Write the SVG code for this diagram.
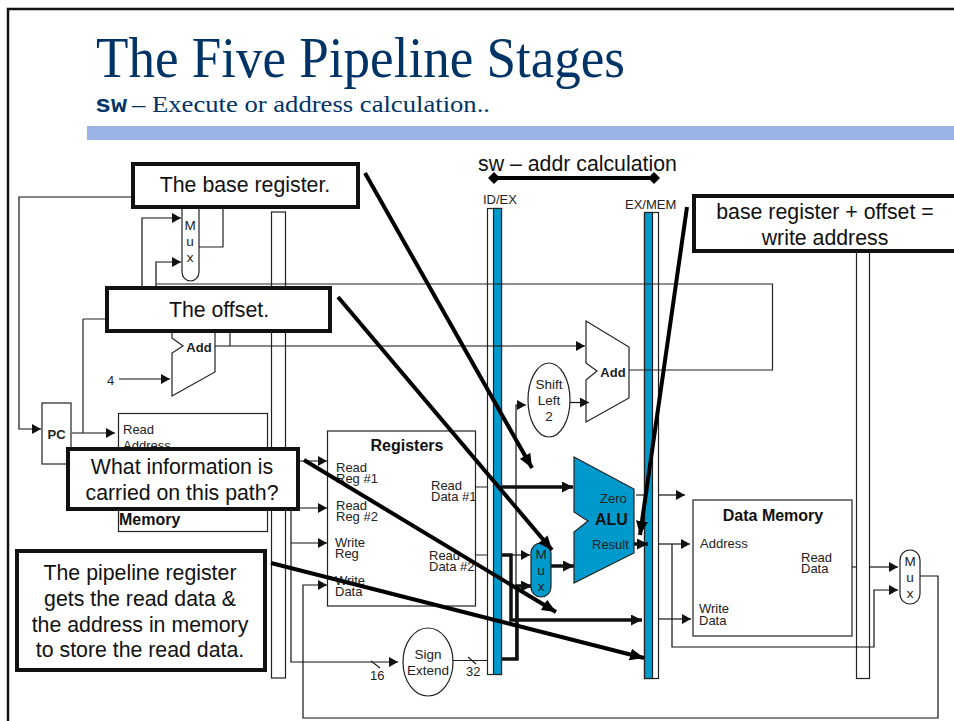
<svg xmlns="http://www.w3.org/2000/svg" width="954" height="721" viewBox="0 0 954 721">
<style>
text{font-family:"Liberation Sans",Arial,sans-serif;fill:#222}
.t{fill:none;stroke:#222;stroke-width:1.2}
.b{fill:#fff;stroke:#222;stroke-width:1.2}
.blue{fill:#0099cc;stroke:#222;stroke-width:1.2}
.a{fill:none;stroke:#111;stroke-width:1.2;marker-end:url(#ah)}
.k{fill:none;stroke:#111;stroke-width:3.5}
.ka{fill:none;stroke:#111;stroke-width:3.5;marker-end:url(#kh)}
.c{fill:#fff;stroke:#111;stroke-width:4}
.ct{font-size:21.3px;text-anchor:middle;fill:#111}
.s{font-size:13px}
.m{font-size:13.500px;text-anchor:middle}
.bd{font-weight:bold}
.h{fill:none;stroke:#000;stroke-width:4;marker-end:url(#kh2)}
.ser{font-family:"Liberation Serif",serif;fill:#003366}
</style>
<defs>
<marker id="ah" markerUnits="userSpaceOnUse" markerWidth="11" markerHeight="11" refX="9" refY="5" orient="auto"><path d="M0 0L9 5L0 10z" fill="#111"/></marker>
<marker id="kh" markerUnits="userSpaceOnUse" markerWidth="13" markerHeight="13" refX="11" refY="5.5" orient="auto"><path d="M0 0L11 5.500L0 11z" fill="#111"/></marker>
<marker id="kh2" markerUnits="userSpaceOnUse" markerWidth="15" markerHeight="13" refX="14" refY="6" orient="auto"><path d="M0 0L14 6L0 12z" fill="#000"/></marker>
<marker id="dm" markerUnits="userSpaceOnUse" markerWidth="12" markerHeight="12" refX="6" refY="6" orient="auto"><path d="M0 6L6 0L12 6L6 12z" fill="#000"/></marker>
</defs>
<rect id="page" width="954" height="721" fill="#fff"/>
<path d="M8 721V9H954" fill="none" stroke="#111" stroke-width="2.500"/>
<text class="ser" x="96" y="77" font-size="56" textLength="529" lengthAdjust="spacingAndGlyphs">The Five Pipeline Stages</text>
<text x="95" y="112" font-size="23" textLength="32" lengthAdjust="spacingAndGlyphs" style="font-family:'Liberation Mono',monospace;font-weight:bold;fill:#003366">sw</text>
<text class="ser" x="132" y="112" font-size="24" textLength="358" lengthAdjust="spacingAndGlyphs">– Execute or address calculation..</text>
<rect x="87" y="126" width="867" height="14" fill="#9ab3e4"/>

<g id="pipeline-bars">
<g id="if-id"><rect class="b" x="271.500" y="212" width="14" height="466"/></g>
<g id="id-ex"><rect class="b" x="487.500" y="208.500" width="14" height="466"/><rect class="blue" x="493.500" y="208.500" width="8" height="466"/><text x="483" y="204" class="s">ID/EX</text></g>
<g id="ex-mem"><rect class="b" x="644.500" y="212.500" width="14" height="466"/><rect class="blue" x="644.500" y="212.500" width="8" height="466"/><text x="625" y="209" class="s">EX/MEM</text></g>
<g id="mem-wb"><rect class="b" x="856.500" y="212.500" width="13" height="466"/><text x="847" y="202.500" class="s">IF/ID</text></g>
</g>

<g id="connectors">
<path class="a" d="M131 197H19V429H41"/>
<path class="a" d="M72 433H115"/>
<path class="t" d="M83 319V433M83 319H105"/>
<path class="t" d="M199 247H223V209"/>
<path class="a" d="M142 286V218H181"/>
<path class="a" d="M156 286V262H181"/>
<path class="t" d="M156 284H772.500V370H629"/>
<path class="a" d="M119 379H170"/>
<path class="a" d="M215 346H585"/>
<path class="t" d="M230 346V333"/>
<path class="a" d="M516 660V405H526"/>
<path class="a" d="M291 461H327"/>
<path class="a" d="M291 508H327"/>
<path class="a" d="M291 543H327"/>
<path class="a" d="M291 461V662H398"/>
<path class="t" d="M371 661L380 668M468 657L476 664"/>
<path class="t" d="M453 660.500H487"/>
<path class="a" d="M920 576H938V718H303V585H327"/>
<path class="t" d="M476 487H487M476 555H487"/>
<path class="ka" d="M502 487H573"/>
<path class="a" d="M502 555H530"/>
<path class="ka" d="M502 555H511V620H642"/>
<path class="ka" d="M502 659H517V586H532"/>
<path class="ka" d="M551 566H574"/>
<path class="t" d="M636 495H644"/>
<path class="a" d="M659 495H685"/>
<path class="ka" d="M634 544H648"/>
<path class="a" d="M659 544H690"/>
<path class="a" d="M659 619H691"/>
<path class="a" d="M672 544V647H874V590H898"/>
<path class="t" d="M848 567H856"/>
<path class="a" d="M870 567H898"/>
<path d="M494 178H654" stroke="#000" stroke-width="4" fill="none" marker-start="url(#dm)" marker-end="url(#dm)"/>
</g>

<g id="pc"><rect class="b" x="42" y="403" width="29" height="61"/><text class="m bd" x="56.500" y="439" style="font-size:13px">PC</text></g>
<g id="instruction-memory"><rect class="b" x="118.500" y="413.500" width="149" height="118"/><text class="s" x="123" y="434">Read</text><text class="s" x="123" y="450">Address</text><text x="119" y="525" style="font-size:16px;font-weight:bold;fill:#111">Memory</text></g>
<g id="pc-mux"><path class="b" d="M182 205V272a8.500 9 0 0 0 17 0V205z"/><text class="m" x="190" y="230">M</text><text class="m" x="190" y="246">u</text><text class="m" x="190" y="262">x</text></g>
<g id="pc-add"><path class="b" d="M172 310V338L183 346L172 353V396L215 372V310z"/><text class="m bd" x="199" y="352" style="font-size:13px">Add</text></g>
<text class="s" x="107" y="385">4</text>
<g id="branch-add"><path class="b" d="M586 321L629 347V398L586 422V380L597 371L586 363z"/><text class="m bd" x="613" y="377" style="font-size:13px">Add</text></g>
<g id="shift-left"><ellipse class="b" cx="549" cy="400" rx="21" ry="37"/><text class="m" x="549" y="389">Shift</text><text class="m" x="549" y="405">Left</text><text class="m" x="549" y="421">2</text></g>
<path class="a" d="M570 402.500H589"/>
<g id="registers"><rect class="b" x="327.500" y="431" width="148" height="175"/><text x="407" y="451" text-anchor="middle" style="font-size:16px;font-weight:bold;fill:#111">Registers</text>
<g class="s"><text x="336" y="472">Read</text><text x="336" y="483">Reg #1</text><text x="336" y="510">Read</text><text x="336" y="521">Reg #2</text><text x="335" y="547">Write</text><text x="335" y="558">Reg</text><text x="335" y="585">Write</text><text x="335" y="596">Data</text><text x="431" y="490">Read</text><text x="431" y="501">Data #1</text><text x="429" y="560">Read</text><text x="429" y="571">Data #2</text></g></g>
<g id="sign-extend"><ellipse class="b" cx="428" cy="662" rx="25" ry="34"/><text class="m" x="428" y="659">Sign</text><text class="m" x="428" y="675">Extend</text></g>
<text class="s" x="370" y="680">16</text><text class="s" x="466" y="676">32</text>
<g id="ex-mux"><rect class="blue" x="531" y="543" width="20" height="54" rx="10"/><text class="m" x="541" y="559">M</text><text class="m" x="541" y="575">u</text><text class="m" x="541" y="591">x</text></g>
<g id="alu"><path class="blue" d="M574 457L634 489V553L574 583V532L588 521L574 512z"/><text x="600" y="503" style="font-size:13px">Zero</text><text x="595" y="525" style="font-size:16px;font-weight:bold;fill:#111">ALU</text><text x="592" y="549" style="font-size:13px">Result</text></g>
<g id="data-memory"><rect class="b" x="693" y="500" width="159" height="136"/><text x="773" y="521" text-anchor="middle" style="font-size:16px;font-weight:bold;fill:#111">Data Memory</text><text x="700" y="548" style="font-size:13px">Address</text><g class="s"><text x="801" y="562">Read</text><text x="801" y="573">Data</text><text x="699" y="613">Write</text><text x="699" y="625">Data</text></g></g>
<g id="wb-mux"><rect class="b" x="900" y="550" width="20" height="54" rx="10"/><text class="m" x="910" y="566">M</text><text class="m" x="910" y="582">u</text><text class="m" x="910" y="598">x</text></g>

<g id="callouts">
<g id="callout-base"><rect class="c" x="133" y="164" width="225" height="43"/><text class="ct" x="245" y="192">The base register.</text></g>
<g id="callout-offset"><rect class="c" x="107" y="288" width="223" height="43"/><text class="ct" x="219" y="317">The offset.</text></g>
<g id="callout-info"><rect class="c" x="68" y="449" width="230" height="60"/><text class="ct" x="182" y="474">What information is</text><text class="ct" x="182" y="500">carried on this path?</text></g>
<g id="callout-pipeline"><rect class="c" x="17" y="551" width="248" height="119"/><text class="ct" x="140" y="580">The pipeline register</text><text class="ct" x="140" y="606">gets the read data &amp;</text><text class="ct" x="140" y="632">the address in memory</text><text class="ct" x="140" y="657">to store the read data.</text></g>
<g id="callout-sum"><rect class="c" x="694" y="196" width="270" height="55"/><text class="ct" x="825" y="219">base register + offset =</text><text class="ct" x="825" y="245">write address</text></g>
</g>
<g id="callout-arrows">
<path class="h" d="M365 173L532 468"/>
<path class="h" d="M338 297L552 550"/>
<path class="h" d="M304 460L556 612"/>
<path class="h" d="M271 563L644 658"/>
<path class="h" d="M687 207L640 535"/>
</g>
<text x="478" y="171" style="font-size:21.3px;fill:#111">sw – addr calculation</text>
</svg>
